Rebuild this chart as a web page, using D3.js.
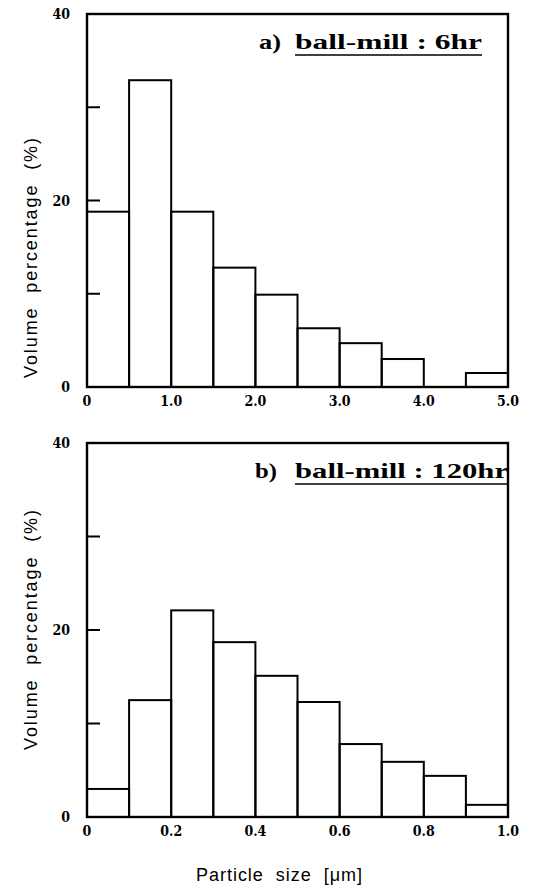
<!DOCTYPE html>
<meta charset="utf-8">
<script src="https://cdn.jsdelivr.net/npm/d3@7"></script>
<style>
body { margin: 0; background: #fff; }
.tick-label { font: bold 14px "DejaVu Serif", serif; font-stretch: condensed; fill: #000; }
.title { font: bold 22px "Liberation Serif", serif; fill: #000; }
.axis-title { font: 18px "Liberation Sans", Arial, sans-serif; fill: #000; }
rect.bar { fill: none; stroke: #000; stroke-width: 2px; }
rect.frame { fill: none; stroke: #000; stroke-width: 2.4px; }
line.ytick { stroke: #000; stroke-width: 2px; }
line.uline { stroke: #000; stroke-width: 1.5px; }
</style>
<body>
<script>

// panel a) ball-mill 6hr : bin width 0.5 um
var binsA = [0, 0.5, 1.0, 1.5, 2.0, 2.5, 3.0, 3.5, 4.0, 4.5];
var valuesA = [18.8, 32.9, 18.8, 12.8, 9.9, 6.3, 4.7, 3.0, 0, 1.5];
var xTicksA = [0, 1, 2, 3, 4, 5];
var xLabelsA = ["0", "1.0", "2.0", "3.0", "4.0", "5.0"];

// panel b) ball-mill 120hr : bin width 0.1 um
var binsB = [0, 0.1, 0.2, 0.3, 0.4, 0.5, 0.6, 0.7, 0.8, 0.9];
var valuesB = [3.0, 12.5, 22.1, 18.7, 15.1, 12.3, 7.8, 5.9, 4.4, 1.3];
var xTicksB = [0, 0.2, 0.4, 0.6, 0.8, 1.0];
var xLabelsB = ["0", "0.2", "0.4", "0.6", "0.8", "1.0"];

var yTicks = [0, 20, 40];
var yMinor = [10, 20, 30];

var width = 534, height = 891;

var svg = d3.select("body").append("svg")
    .attr("width", width)
    .attr("height", height);

function panel(opt) {
  var x = d3.scaleLinear().domain(opt.domain).range([87, 508]);
  var y = d3.scaleLinear().domain([0, 40]).range([opt.bottom, opt.top]);
  var g = svg.append("g");

  var bars = opt.bins.map(function(b, i) { return { x0: b, v: opt.values[i] }; })
      .filter(function(d) { return d.v > 0; });

  g.selectAll("rect.bar")
      .data(bars)
      .enter().append("rect")
      .attr("class", "bar")
      .attr("x", function(d) { return x(d.x0); })
      .attr("width", function(d) { return x(d.x0 + opt.step) - x(d.x0); })
      .attr("y", function(d) { return y(d.v); })
      .attr("height", function(d) { return y(0) - y(d.v); });

  g.append("rect")
      .attr("class", "frame")
      .attr("x", x.range()[0])
      .attr("y", y(40))
      .attr("width", x.range()[1] - x.range()[0])
      .attr("height", y(0) - y(40));

  // inner ticks on the left axis
  g.selectAll("line.ytick")
      .data(yMinor)
      .enter().append("line")
      .attr("class", "ytick")
      .attr("x1", x.range()[0])
      .attr("x2", x.range()[0] + 13)
      .attr("y1", function(d) { return y(d); })
      .attr("y2", function(d) { return y(d); });

  g.selectAll("text.ylab")
      .data(yTicks)
      .enter().append("text")
      .attr("class", "tick-label")
      .attr("text-anchor", "end")
      .attr("x", 70)
      .attr("y", function(d) { return y(d) + 5; })
      .text(function(d) { return d; });

  g.selectAll("text.xlab")
      .data(opt.xTicks)
      .enter().append("text")
      .attr("class", "tick-label")
      .attr("text-anchor", "middle")
      .attr("x", function(d) { return x(d); })
      .attr("y", y(0) + 19)
      .text(function(d, i) { return opt.xLabels[i]; });

  // panel title, main part underlined; glyphs widened like the original print
  var base = y(40) + 35;
  g.append("text")
      .attr("class", "title")
      .attr("x", opt.prefixX)
      .attr("y", base)
      .attr("textLength", 22)
      .attr("lengthAdjust", "spacingAndGlyphs")
      .text(opt.prefix);
  g.append("text")
      .attr("class", "title")
      .attr("x", 295)
      .attr("y", base)
      .attr("textLength", opt.titleEnd - 295)
      .attr("lengthAdjust", "spacingAndGlyphs")
      .text(opt.title);
  g.append("line")
      .attr("class", "uline")
      .attr("x1", 295)
      .attr("x2", opt.titleEnd)
      .attr("y1", base + 6)
      .attr("y2", base + 6);

  svg.append("text")
      .attr("class", "axis-title")
      .attr("text-anchor", "middle")
      .attr("transform", "translate(37," + opt.labelY + ") rotate(-90)")
      .attr("textLength", 240)
      .attr("lengthAdjust", "spacing")
      .attr("xml:space", "preserve")
      .text("Volume  percentage  (%)");
}

panel({ domain: [0, 5], step: 0.5, bins: binsA, values: valuesA, top: 14, bottom: 387,
        xTicks: xTicksA, xLabels: xLabelsA, prefix: "a)", prefixX: 259, title: "ball-mill : 6hr",
        titleEnd: 482, labelY: 258 });
panel({ domain: [0, 1], step: 0.1, bins: binsB, values: valuesB, top: 443, bottom: 817,
        xTicks: xTicksB, xLabels: xLabelsB, prefix: "b)", prefixX: 255, title: "ball-mill : 120hr",
        titleEnd: 508, labelY: 630 });

svg.append("text")
    .attr("class", "axis-title")
    .attr("text-anchor", "middle")
    .attr("x", 279)
    .attr("y", 881)
    .attr("textLength", 166)
    .attr("lengthAdjust", "spacing")
    .attr("xml:space", "preserve")
    .text("Particle  size  [\u03bcm]");

</script>
</body>
